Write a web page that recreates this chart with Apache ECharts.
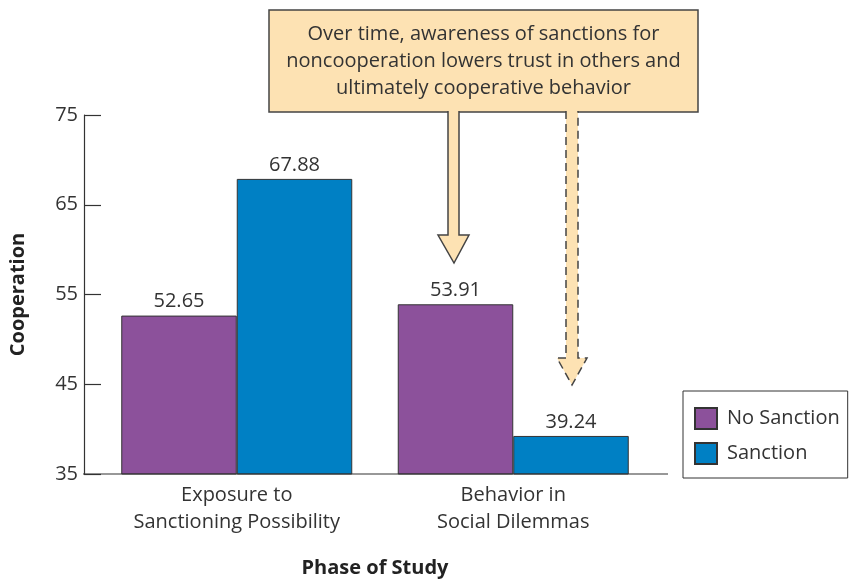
<!DOCTYPE html>
<html>
<head>
<meta charset="utf-8">
<script src="https://cdn.jsdelivr.net/npm/echarts@6/dist/echarts.min.js"></script>
<style>
  html, body { margin: 0; padding: 0; background: #fff; }
  #chart { width: 850px; height: 583px; }
</style>
</head>
<body>
<div id="chart"></div>
<script>
// Phases of the study (x categories)
const phases = ['Exposure to\nSanctioning Possibility', 'Behavior in\nSocial Dilemmas'];
// Mean cooperation per condition
const noSanction = [52.65, 53.91];
const sanction = [67.88, 39.24];
// Y axis range and step
const yMin = 35, yMax = 75, yStep = 10;

const note = 'Over time, awareness of sanctions for\nnoncooperation lowers trust in others and\nultimately cooperative behavior';

const FONT = '"Open Sans", Lato, sans-serif';
const TXT = '#333';
const PEACH = '#FDE2B3';
const EDGE = '#444';

const chart = echarts.init(document.getElementById('chart'), null, { renderer: 'canvas' });

const labelStyle = {
  show: true, position: 'top', distance: 4,
  color: TXT, fontFamily: FONT, fontSize: 20,
  formatter: p => p.value.toFixed(2)
};

chart.setOption({
  animation: false,
  backgroundColor: '#fff',
  grid: { left: 97.5, right: 198.5, top: 115, bottom: 108, containLabel: false },
  legend: {
    data: ['No Sanction', 'Sanction'],
    orient: 'vertical',
    left: 683, top: 391,
    borderColor: '#333', borderWidth: 1, borderRadius: 0,
    padding: [16, 8, 13, 11],
    itemWidth: 22, itemHeight: 21, itemGap: 12,
    icon: 'rect',
    textStyle: { color: TXT, fontFamily: FONT, fontSize: 20, padding: [0, 0, 0, 5] }
  },
  xAxis: {
    type: 'category',
    data: phases,
    axisLine: { show: false },
    axisTick: { show: false },
    axisLabel: { color: TXT, fontFamily: FONT, fontSize: 20, lineHeight: 27, margin: 8 },
    name: 'Phase of Study',
    nameLocation: 'middle',
    nameGap: 84,
    nameTextStyle: { color: '#222', fontFamily: FONT, fontSize: 20, fontWeight: 'bold' }
  },
  yAxis: {
    type: 'value',
    min: yMin, max: yMax, interval: yStep,
    offset: 14.5,
    axisLine: { show: true, lineStyle: { color: '#333', width: 1.2 } },
    axisTick: { show: true, inside: true, length: 17, lineStyle: { color: '#333', width: 1.2 } },
    splitLine: { show: false },
    axisLabel: { color: TXT, fontFamily: FONT, fontSize: 20, margin: 6 },
    name: 'Cooperation',
    nameLocation: 'middle',
    nameGap: 56,
    nameRotate: 90,
    nameTextStyle: { color: '#222', fontFamily: FONT, fontSize: 20, fontWeight: 'bold' }
  },
  series: [
    {
      name: 'No Sanction', type: 'bar', data: noSanction,
      barWidth: 115.5, barGap: '0%',
      itemStyle: { color: '#8C519B', borderColor: '#333', borderWidth: 1 },
      label: labelStyle
    },
    {
      name: 'Sanction', type: 'bar', data: sanction,
      barWidth: 115.5, barGap: '0%',
      itemStyle: { color: '#0080C4', borderColor: '#333', borderWidth: 1 },
      label: labelStyle
    }
  ]
});

// Baseline extends a little beyond the plotting band on both sides
const baseY = chart.convertToPixel({ yAxisIndex: 0 }, yMin);

// Callout box with two arrows (solid and dashed)
const solidArrow = [[448, 111], [448, 235], [438, 235], [454, 263], [469, 235], [459, 235], [459, 111]];
const dashedArrow = [[566, 111], [566, 358], [557, 358], [572, 385], [587, 358], [578, 358], [578, 111]];

chart.setOption({
  graphic: [
    { type: 'line', shape: { x1: 83, y1: baseY, x2: 668, y2: baseY },
      style: { stroke: '#333', lineWidth: 1.2 }, z: 10 },
    { type: 'rect', shape: { x: 269, y: 10, width: 429, height: 102 },
      style: { fill: PEACH, stroke: EDGE, lineWidth: 1.5 }, z: 20 },
    { type: 'text', x: 483.5, y: 61,
      style: { text: note, fill: TXT, font: '20px ' + FONT, lineHeight: 27,
               textAlign: 'center', textVerticalAlign: 'middle' }, z: 21 },
    { type: 'polygon', shape: { points: solidArrow },
      style: { fill: PEACH, stroke: null }, z: 22 },
    { type: 'polyline', shape: { points: solidArrow },
      style: { stroke: EDGE, lineWidth: 1.5, fill: null }, z: 23 },
    { type: 'polygon', shape: { points: dashedArrow },
      style: { fill: PEACH, stroke: null }, z: 22 },
    { type: 'polyline', shape: { points: dashedArrow },
      style: { stroke: EDGE, lineWidth: 1.5, fill: null, lineDash: [8, 5] }, z: 23 }
  ]
});
</script>
</body>
</html>
